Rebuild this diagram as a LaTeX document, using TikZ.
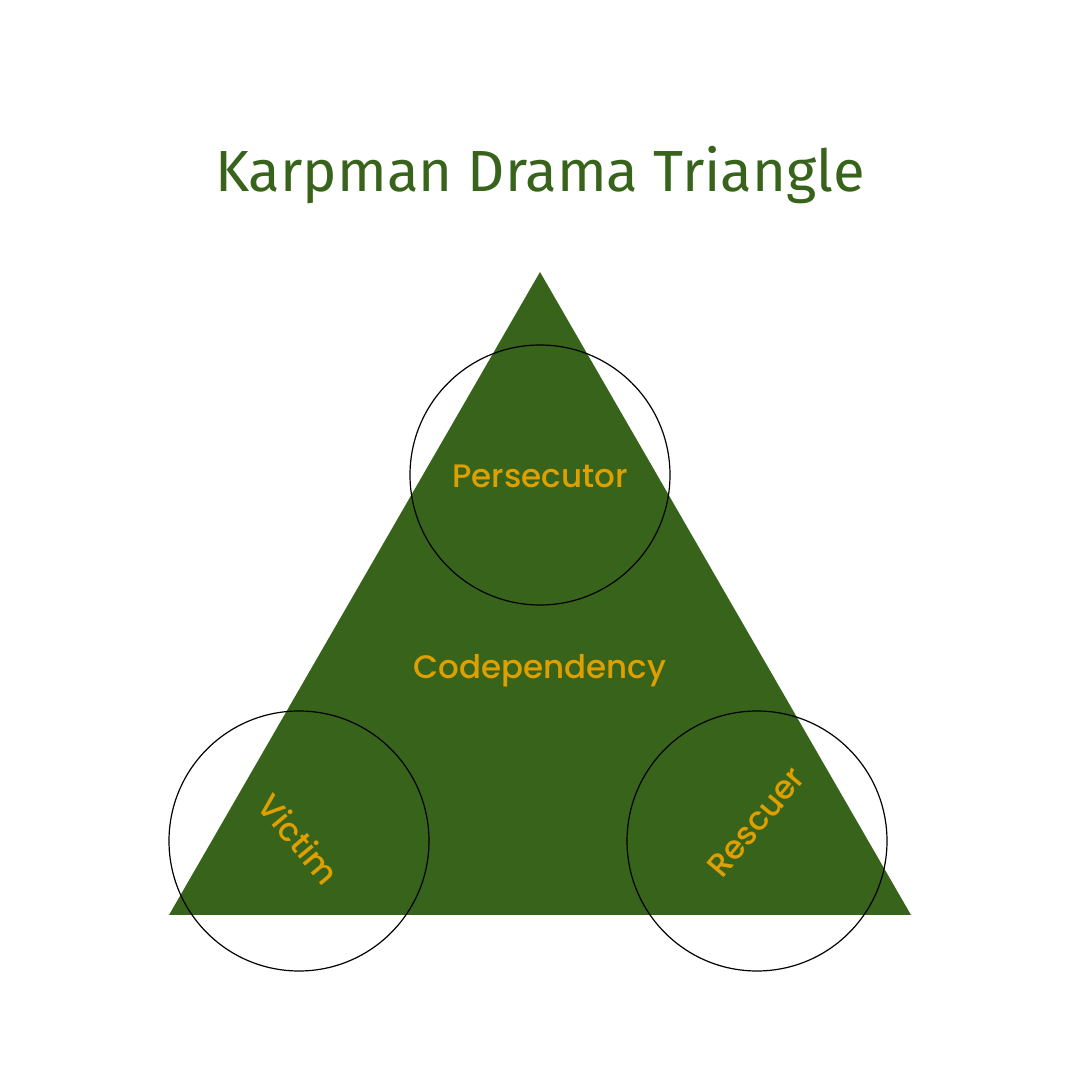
\documentclass[tikz,border=0pt]{standalone}
\usepackage{fontspec}
\newfontfamily\titlefont{Fira Sans}
\newfontfamily\rolefont{Poppins Medium}
\definecolor{dramagreen}{RGB}{56,99,26}
\definecolor{rolegold}{RGB}{222,160,0}
\tikzset{
  role/.style={font=\rolefont\fontsize{32.5}{35}\selectfont, text=rolegold},
  ring/.style={draw=black, line width=1.2pt},
}
\begin{document}
\begin{tikzpicture}[x=1pt, y=1pt]
        \useasboundingbox (0,0) rectangle (1080,1080);
        \fill[white] (0,0) rectangle (1080,1080);

        % Title
        \node[font=\titlefont\fontsize{58}{62}\selectfont, text=dramagreen] (title) at (540, 905) {Karpman Drama Triangle};

        % Triangle
        \coordinate (top) at (540, 808);
        \coordinate (left) at (169, 165);
        \coordinate (right) at (911, 165);
        \fill[dramagreen] (top) -- (left) -- (right) -- cycle;

        % Role circles
        \draw[ring] (540, 605) circle (130);
        \draw[ring] (299, 239) circle (130);
        \draw[ring] (757, 239) circle (130);

        % Labels
        \node[role] (persecutor) at (540, 604) {Persecutor};
        \node[role] (codep) at (540, 409) {Codependency};
        \node[role, rotate=-50] (victim) at (299, 241) {Victim};
        \node[role, rotate=50] (rescuer) at (756, 258) {Rescuer};
    \end{tikzpicture}
\end{document}
